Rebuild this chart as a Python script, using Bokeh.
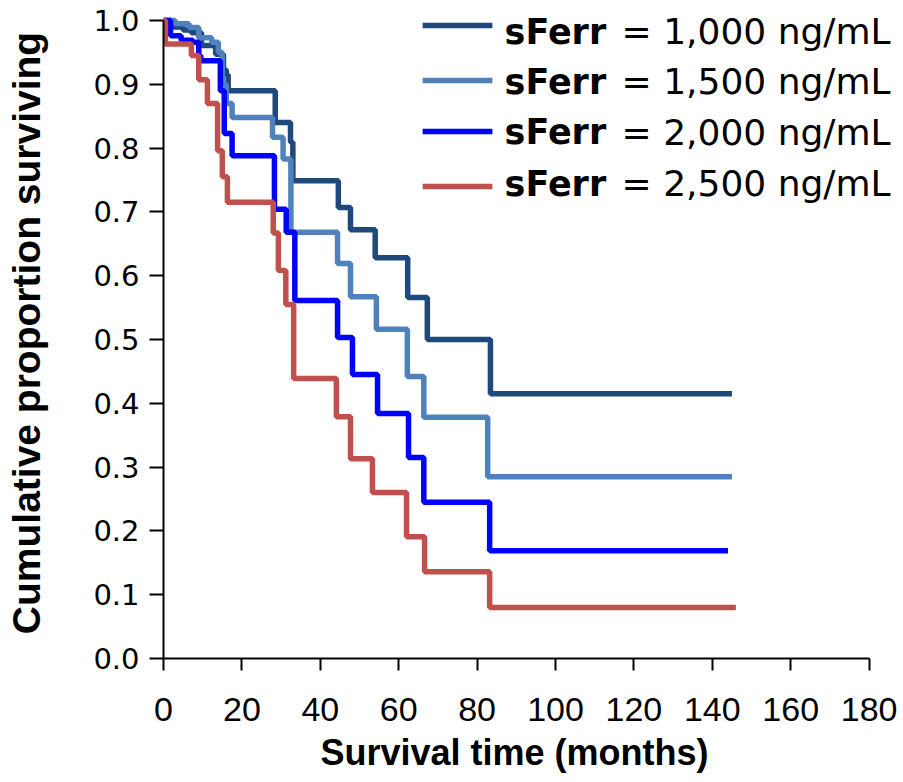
from bokeh.plotting import figure
from bokeh.models import Label, Range1d, FixedTicker, NumeralTickFormatter, Title
from bokeh.embed import file_html
from bokeh.resources import INLINE

# ---------------- data ----------------
series_labels = ["1,000", "1,500", "2,000", "2,500"]
series_colors = ["#1F497D", "#4F81BD", "#0000FF", "#C0504D"]

t_1000 = [0, 2, 5, 7.1, 9.7, 13.3, 15.3, 16, 16.5, 28.5, 32.4, 33, 44.6, 47.7, 54, 62.3, 67.3, 83.4, 145]
s_1000 = [1.0, 0.99, 0.985, 0.981, 0.961, 0.947, 0.923, 0.915, 0.89, 0.84, 0.809, 0.749, 0.707, 0.672, 0.628, 0.566, 0.50, 0.415, 0.415]

t_1500 = [0, 3, 6.5, 9, 12.3, 14, 15, 16, 17.5, 27.8, 30.5, 32.5, 44.4, 47.7, 54.3, 62.2, 66.4, 82.7, 145]
s_1500 = [1.0, 0.995, 0.989, 0.973, 0.966, 0.95, 0.90, 0.87, 0.848, 0.817, 0.783, 0.668, 0.619, 0.567, 0.516, 0.442, 0.378, 0.285, 0.285]

t_2000 = [0, 1.8, 4.5, 7.5, 9, 9.5, 14.5, 15.5, 17.5, 28.3, 31.3, 33.5, 44.4, 48.2, 54.6, 62.5, 66.4, 83.2, 144]
s_2000 = [1.0, 0.976, 0.969, 0.966, 0.945, 0.937, 0.89, 0.823, 0.788, 0.704, 0.668, 0.561, 0.503, 0.445, 0.384, 0.315, 0.245, 0.169, 0.169]

t_2500 = [0, 0.5, 7.1, 9, 11.2, 13.8, 15, 16.3, 28, 29.3, 31.2, 33.2, 44.1, 47.7, 53.3, 62, 66.6, 83.2, 146]
s_2500 = [1.0, 0.963, 0.945, 0.907, 0.87, 0.796, 0.755, 0.715, 0.667, 0.608, 0.555, 0.439, 0.379, 0.313, 0.26, 0.191, 0.136, 0.08, 0.08]

x_ticks = [0, 20, 40, 60, 80, 100, 120, 140, 160, 180]
y_ticks = [0.0, 0.1, 0.2, 0.3, 0.4, 0.5, 0.6, 0.7, 0.8, 0.9, 1.0]

times = [t_1000, t_1500, t_2000, t_2500]
survs = [s_1000, s_1500, s_2000, s_2500]

# ---------------- figure ----------------
# x range runs a little past 180 so the legend text is not clipped; the axis itself stops at 180
p = figure(width=903, height=782, output_backend="svg", toolbar_location=None,
           x_range=Range1d(0, 188), y_range=Range1d(0, 1.0204),
           min_border_left=163, min_border_right=3, min_border_top=7, min_border_bottom=124)
p.outline_line_color = None
p.xgrid.visible = False
p.ygrid.visible = False
p.background_fill_color = "white"
p.border_fill_color = "white"

for t, s, c in zip(times, survs, series_colors):
    p.step(t, s, mode="after", line_color=c, line_width=5.5)

# axes
p.xaxis.bounds = (0, 180)
p.yaxis.bounds = (0, 1)
p.xaxis.ticker = FixedTicker(ticks=x_ticks)
p.yaxis.ticker = FixedTicker(ticks=y_ticks)
p.yaxis.formatter = NumeralTickFormatter(format="0.0")
for ax in (p.xaxis[0], p.yaxis[0]):
    ax.axis_line_color = "black"
    ax.axis_line_width = 2
    ax.major_tick_line_color = "black"
    ax.major_tick_line_width = 2
    ax.major_tick_in = 0
    ax.minor_tick_line_color = None
    ax.major_label_text_color = "black"
    ax.axis_label_text_color = "black"

p.yaxis.major_tick_out = 14
p.yaxis.major_label_standoff = 10
p.yaxis.major_label_text_font = "DejaVu Sans"
p.yaxis.major_label_text_font_size = "29px"
p.yaxis.axis_label = "Cumulative proportion surviving"
p.yaxis.axis_label_text_font = "Liberation Sans"
p.yaxis.axis_label_text_font_style = "bold"
p.yaxis.axis_label_text_font_size = "39px"
p.yaxis.axis_label_standoff = 42

p.xaxis.major_tick_out = 12
p.xaxis.major_label_standoff = 27
p.xaxis.major_label_text_font = "Liberation Sans"
p.xaxis.major_label_text_font_size = "34px"

# x-axis title, left-aligned under the 0..180 axis so that it is centred on it
p.add_layout(Title(text="Survival time (months)", align="left", offset=157,
                   vertical_align="top", standoff=16,
                   text_font="Liberation Sans", text_font_style="bold",
                   text_font_size="36px", text_color="black"), "below")

# legend (manual, to allow the bold "sFerr" part)
leg_line_rows = [0.992, 0.906, 0.826, 0.740]
leg_text_rows = [0.982, 0.904, 0.825, 0.744]
leg_x0, leg_x1, leg_text_x = 66.1, 83.9, 87.0
p.segment(x0=[leg_x0] * 4, x1=[leg_x1] * 4, y0=leg_line_rows, y1=leg_line_rows,
          line_color=series_colors, line_width=5.5)
for yv, lab in zip(leg_text_rows, series_labels):
    p.add_layout(Label(x=leg_text_x, y=yv, text="sFerr", text_font="DejaVu Sans",
                       text_font_style="bold", text_font_size="35px", text_color="black",
                       text_baseline="middle", text_align="left"))
    p.add_layout(Label(x=leg_text_x, y=yv, x_offset=117, text="= " + lab + " ng/mL",
                       text_font="DejaVu Sans", text_font_size="36px", text_color="black",
                       text_baseline="middle", text_align="left"))

open("out.html", "w").write(file_html(p, INLINE))
